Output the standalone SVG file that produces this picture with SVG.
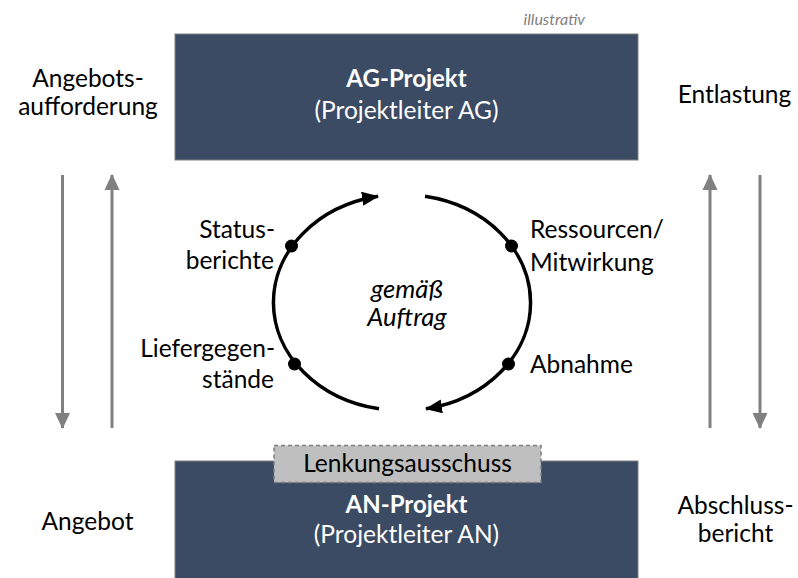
<svg xmlns="http://www.w3.org/2000/svg" width="798" height="578" viewBox="0 0 798 578">
  <defs>
    <style>
      text { font-family: Lato, "Open Sans", sans-serif; font-size: 24.5px; fill: #000; }
      .box { fill: #3b4b63; stroke: #808080; stroke-width: 1; }
      .boxtitle { fill: #fff; font-weight: bold; text-anchor: middle; font-size: 24px; }
      .boxsub { fill: #fff; text-anchor: middle; }
      .mid { text-anchor: middle; }
      .end { text-anchor: end; }
      .note { font-size: 16px; font-style: italic; fill: #808080; text-anchor: end; }
      .center { font-style: italic; text-anchor: middle; font-size: 25.5px; }
      .flow { stroke: #808080; stroke-width: 3; fill: none; }
      .cycle { stroke: #000; stroke-width: 3.5; fill: none; }
      .dot { fill: #000; }
    </style>
    <marker id="grayHead" markerUnits="userSpaceOnUse" markerWidth="16" markerHeight="16" viewBox="0 0 16 16" refX="15" refY="8" orient="auto">
      <path d="M0,0.5 L16,8 L0,15.5 z" fill="#808080"/>
    </marker>
    <marker id="blackHead" markerUnits="userSpaceOnUse" markerWidth="17" markerHeight="14" viewBox="0 0 17 14" refX="16" refY="7" orient="auto">
      <path d="M0,0 L17,7 L0,14 z" fill="#000"/>
    </marker>
  </defs>

  <rect width="798" height="578" fill="#fff"/>

  <text class="note" x="585" y="25">illustrativ</text>

  <!-- client side project -->
  <g id="ag-projekt">
    <rect class="box" x="175" y="34" width="463" height="126"/>
    <text class="boxtitle" x="406.5" y="87">AG-Projekt</text>
    <text class="boxsub" x="406.5" y="119">(Projektleiter AG)</text>
  </g>

  <!-- contractor side project -->
  <g id="an-projekt">
    <rect class="box" x="175" y="461" width="463" height="126"/>
    <text class="boxtitle" x="406.5" y="513">AN-Projekt</text>
    <text class="boxsub" x="406.5" y="543">(Projektleiter AN)</text>
  </g>

  <!-- steering committee tab -->
  <g id="lenkungsausschuss">
    <rect x="274" y="445.5" width="267" height="37" fill="#bfbfbf" stroke="#7f7f7f" stroke-width="1.5" stroke-dasharray="4,3"/>
    <text class="mid" x="407.5" y="472">Lenkungsausschuss</text>
  </g>

  <!-- connectors -->
  <g id="connectors">
    <line class="flow" x1="62.5" y1="175" x2="62.5" y2="428" marker-end="url(#grayHead)"/>
    <line class="flow" x1="112" y1="428" x2="112" y2="175" marker-end="url(#grayHead)"/>
    <line class="flow" x1="710" y1="428" x2="710" y2="175" marker-end="url(#grayHead)"/>
    <line class="flow" x1="760" y1="175" x2="760" y2="428" marker-end="url(#grayHead)"/>

    <path class="cycle" d="M379,408.8 A128,108 0 0 1 378,196.3" marker-end="url(#blackHead)"/>
    <path class="cycle" d="M425,196.3 A128,108 0 0 1 426,408.8" marker-end="url(#blackHead)"/>
    <circle class="dot" cx="291.5" cy="246" r="6.5"/>
    <circle class="dot" cx="511.5" cy="246" r="6.5"/>
    <circle class="dot" cx="294.5" cy="364" r="6.5"/>
    <circle class="dot" cx="508.5" cy="364" r="6.5"/>
  </g>

  <!-- flow labels -->
  <g id="label-angebotsaufforderung">
    <text class="mid" x="88" y="87">Angebots-</text>
    <text class="mid" x="88" y="115">aufforderung</text>
  </g>
  <g id="label-entlastung">
    <text class="mid" x="734.5" y="103">Entlastung</text>
  </g>
  <g id="label-angebot">
    <text class="mid" x="87.5" y="530">Angebot</text>
  </g>
  <g id="label-abschlussbericht">
    <text class="mid" x="735.5" y="514">Abschluss-</text>
    <text class="mid" x="735.5" y="542">bericht</text>
  </g>

  <!-- cycle labels -->
  <g id="label-statusberichte">
    <text class="end" x="275" y="238">Status-</text>
    <text class="end" x="274" y="269">berichte</text>
  </g>
  <g id="label-liefergegenstaende">
    <text class="end" x="275" y="357">Liefergegen-</text>
    <text class="end" x="274" y="388">stände</text>
  </g>
  <g id="label-ressourcen">
    <text x="530" y="238">Ressourcen/</text>
    <text x="530" y="271">Mitwirkung</text>
  </g>
  <g id="label-abnahme">
    <text x="530" y="373">Abnahme</text>
  </g>
  <g id="label-auftrag">
    <text class="center" x="407" y="298">gemäß</text>
    <text class="center" x="407" y="326">Auftrag</text>
  </g>
</svg>
